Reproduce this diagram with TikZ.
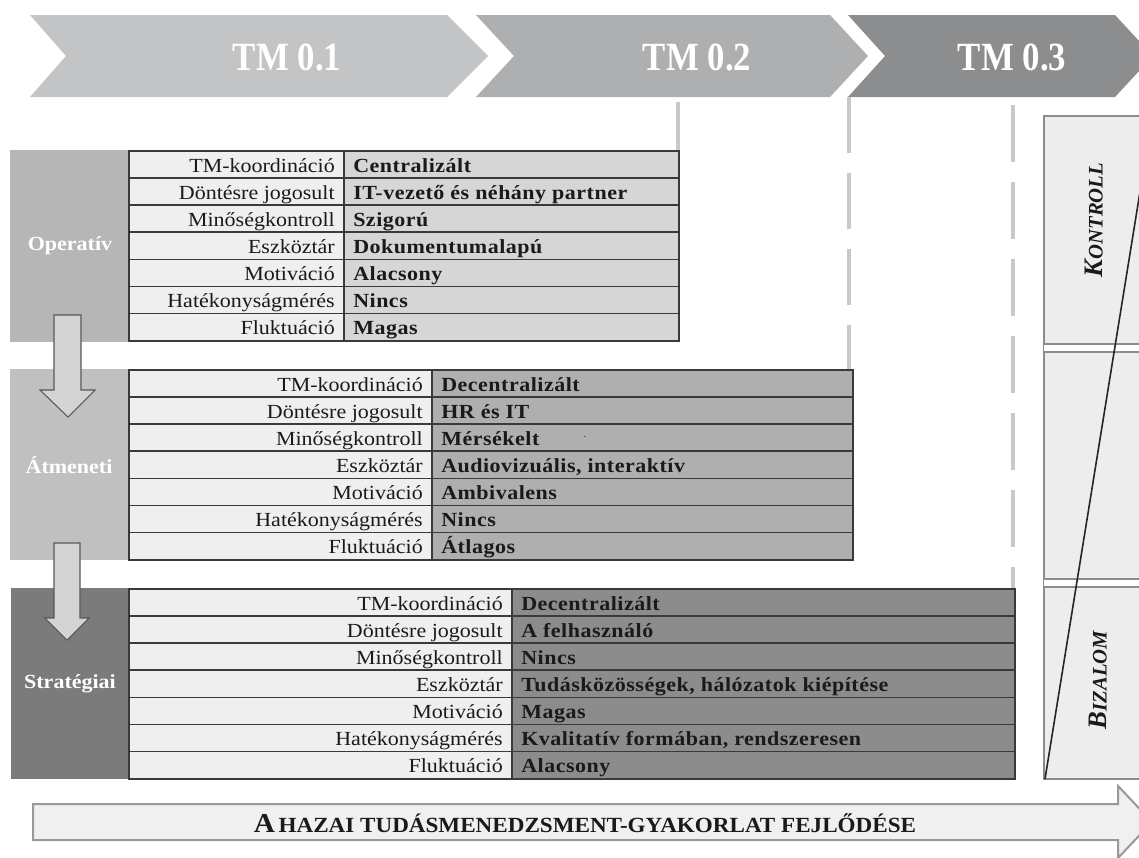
\documentclass[tikz,border=0pt]{standalone}
\usepackage{fontspec}
\setmainfont{Liberation Serif}
\newfontfamily\chevfont[FakeStretch=0.87]{Liberation Serif}
\newfontfamily\widefont[FakeStretch=1.07]{Liberation Serif}
\newfontfamily\tblfam[FakeStretch=1.1]{Liberation Serif}
\newfontfamily\valfam[FakeStretch=1.1,LetterSpace=2.5]{Liberation Serif}
\newcommand\tblsz{\tblfam\fontsize{15}{18}\selectfont}
\newcommand\valsz{\valfam\fontsize{15}{18}\selectfont}
\definecolor{chevA}{HTML}{C3C4C6}
\definecolor{chevB}{HTML}{AEAFB1}
\definecolor{chevC}{HTML}{8C8D8F}
\definecolor{lblfill}{HTML}{EFEFEF}
\definecolor{opval}{HTML}{D6D6D6}
\definecolor{opblk}{HTML}{B6B6B6}
\definecolor{atval}{HTML}{AFAFAF}
\definecolor{atblk}{HTML}{C0C0C0}
\definecolor{stval}{HTML}{8C8C8C}
\definecolor{stblk}{HTML}{7B7B7B}
\definecolor{rulec}{HTML}{3A3A3A}
\definecolor{txtc}{HTML}{1A1A1A}
\definecolor{vline}{HTML}{C9C9C9}
\definecolor{arrfill}{HTML}{D4D4D4}
\definecolor{panelfill}{HTML}{EDEDED}
\definecolor{bottomfill}{HTML}{F0F0F0}
\newcommand\drawtable[5]{%
  \foreach \lab/\val [count=\i] in {#5} {
    \pgfmathsetmacro\yt{#2+(\i-1)*27.1}
    \pgfmathsetmacro\yb{#2+\i*27.1}
    \filldraw[cellline, fill=lblfill] (129,\yt) rectangle (#3,\yb);
    \filldraw[cellline, fill=#4] (#3,\yt) rectangle (#1,\yb);
    \node[lbltxt] (lab\i at #2) at (#3-9,\yb-6) {\lab};
    \node[valtxt] (val\i at #2) at (#3+9,\yb-6) {\val};
  }}
\begin{document}
\begin{tikzpicture}[x=0.75pt,y=-0.75pt,
  cellline/.style={draw=rulec, line width=1.3pt},
  lbltxt/.style={anchor=base east, inner sep=0pt, font=\tblsz, text=txtc},
  valtxt/.style={anchor=base west, inner sep=0pt, font=\valsz\bfseries, text=txtc},
  seclbl/.style={font=\tblsz\bfseries, text=white, inner sep=0pt},
  chevtxt/.style={font=\chevfont\bfseries\fontsize{30}{30}\selectfont, text=white, inner sep=0pt},
  blkarrow/.style={fill=arrfill, draw=black!65, line width=0.8pt},
  vdash/.style={draw=vline, line width=3pt},
  sidetxt/.style={rotate=90, inner sep=0pt, text=txtc, font=\bfseries\itshape}
]
\useasboundingbox (0,0) rectangle (1139,857);
\fill[white] (0,0) rectangle (1139,857);
\clip (0,0) rectangle (1139,857);

% chevrons
\fill[chevA] (30,15) -- (447,15) -- (488,56) -- (447,97) -- (30,97) -- (66,56) -- cycle;
\fill[chevB] (476,15) -- (830,15) -- (868,56) -- (830,97) -- (476,97) -- (514,56) -- cycle;
\fill[chevC] (848,15) -- (1115,15) -- (1153,56) -- (1115,97) -- (848,97) -- (885,56) -- cycle;
\node[chevtxt] (tm1) at (287,57) {TM 0.1};
\node[chevtxt] (tm2) at (697,57) {TM 0.2};
\node[chevtxt] (tm3) at (1012,57) {TM 0.3};

% vertical phase lines
\draw[vdash] (678,102) -- (678,150);
\draw[vdash, dash pattern=on 42pt off 15pt] (849,97) -- (849,370);
\draw[vdash, dash pattern=on 42.75pt off 15pt] (1013,105) -- (1013,589);

% blocks
\fill[opblk] (10,150) rectangle (129,342);
\fill[atblk] (10,369) rectangle (130,560);
\fill[stblk] (11,588) rectangle (129,779);
\node[seclbl] (operativ) at (70,246) {Operatív};
\node[seclbl] (atmeneti) at (69,465) {Átmeneti};
\node[seclbl] (strategiai) at (70,684) {Stratégiai};

% tables
\drawtable{679}{151}{344}{opval}{TM-koordináció/Centralizált, Döntésre jogosult/IT-vezető és néhány partner, Minőségkontroll/Szigorú, Eszköztár/Dokumentumalapú, Motiváció/Alacsony, Hatékonyságmérés/Nincs, Fluktuáció/Magas}
\drawtable{853}{370}{432}{atval}{TM-koordináció/Decentralizált, Döntésre jogosult/HR és IT, Minőségkontroll/Mérsékelt, Eszköztár/{Audiovizuális, interaktív}, Motiváció/Ambivalens, Hatékonyságmérés/Nincs, Fluktuáció/Átlagos}
\drawtable{1015}{589}{512}{stval}{TM-koordináció/Decentralizált, Döntésre jogosult/A felhasználó, Minőségkontroll/Nincs, Eszköztár/{Tudásközösségek, hálózatok kiépítése}, Motiváció/Magas, Hatékonyságmérés/{Kvalitatív formában, rendszeresen}, Fluktuáció/Alacsony}
\node[inner sep=0pt, font=\tiny] (dot) at (585,438) {-};

% block arrows
\filldraw[blkarrow] (54,315) -- (81,315) -- (81,390) -- (95,390) -- (68,417) -- (40,390) -- (54,390) -- cycle;
\filldraw[blkarrow] (54,543) -- (80,543) -- (80,618) -- (89,618) -- (67,640) -- (45,618) -- (54,618) -- cycle;

% right panel
\filldraw[fill=panelfill, draw=black!45, line width=1.5pt] (1044,116) rectangle (1170,779);
\fill[white] (1044,345) rectangle (1170,351);
\fill[white] (1044,580) rectangle (1170,586);
\draw[black!45, line width=1pt] (1044,344) -- (1170,344) (1044,352) -- (1170,352);
\draw[black!45, line width=1pt] (1044,579) -- (1170,579) (1044,587) -- (1170,587);
\draw[black!85, line width=1.2pt] (1045,779) -- (1150,130);
\node[sidetxt] (kontroll) at (1094,220) {{\fontsize{20}{20}\selectfont K}{\fontsize{15.5}{16}\selectfont ONTROLL}};
\node[sidetxt] (bizalom) at (1098,680) {{\fontsize{20}{20}\selectfont B}{\fontsize{15.5}{16}\selectfont IZALOM}};

% bottom arrow
\filldraw[fill=bottomfill, draw=black!40, line width=1.5pt] (33,804) -- (1118,804) -- (1118,786) -- (1152,822) -- (1118,858) -- (1118,840) -- (33,840) -- cycle;
\node[inner sep=0pt, text=txtc, font=\widefont\bfseries] (fejlodes) at (585,823) {{\fontsize{20.5}{21}\selectfont A} {\fontsize{16.2}{17}\selectfont HAZAI TUDÁSMENEDZSMENT-GYAKORLAT FEJLŐDÉSE}};
\end{tikzpicture}
\end{document}
